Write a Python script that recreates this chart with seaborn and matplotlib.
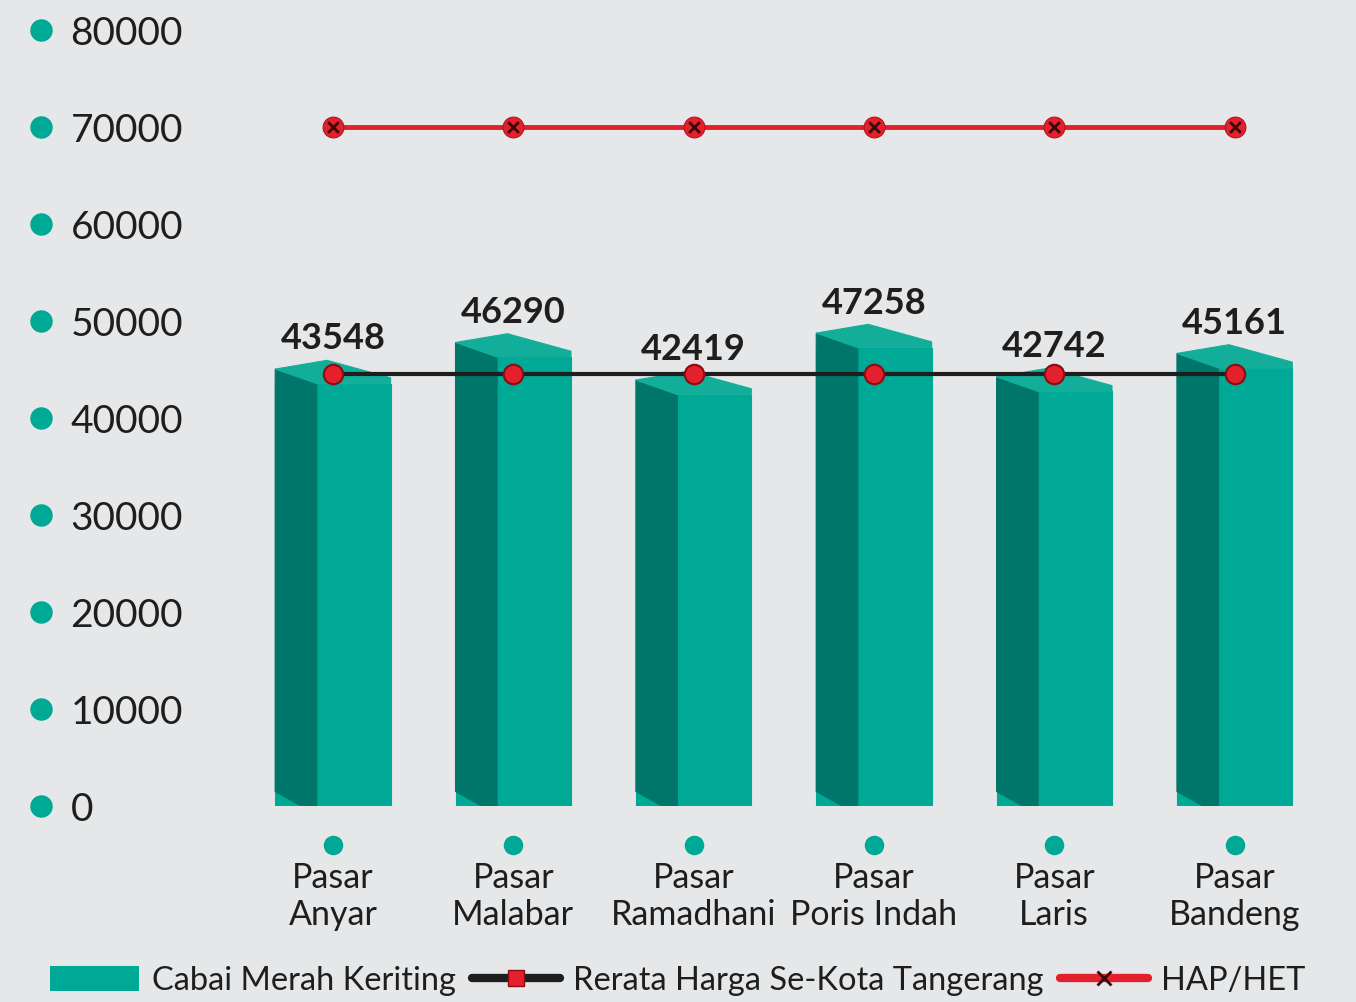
import numpy as np
import matplotlib.pyplot as plt
import seaborn as sns
from matplotlib.patches import Polygon, Patch
from matplotlib.lines import Line2D
from matplotlib.transforms import blended_transform_factory

# data
markets = ["Pasar\nAnyar", "Pasar\nMalabar", "Pasar\nRamadhani",
           "Pasar\nPoris Indah", "Pasar\nLaris", "Pasar\nBandeng"]
cabai = [43548, 46290, 42419, 47258, 42742, 45161]
rerata = [44570, 44570, 44570, 44570, 44570, 44570]
hap = [70000, 70000, 70000, 70000, 70000, 70000]
yticks = [0, 10000, 20000, 30000, 40000, 50000, 60000, 70000, 80000]

bg = "#e5e7e9"
teal = "#00a896"
teal_dark = "#00766a"
teal_top = "#13ae9a"
red = "#e3202b"
ink = "#1e1e1e"

sns.set_style("white")
plt.rcParams['font.family'] = ['Lato', 'DejaVu Sans']

fig = plt.figure(figsize=(13.56, 10.02), dpi=100, facecolor=bg)
ax = fig.add_axes([0.179, 0.1956, 0.798, 0.7744])
ax.set_facecolor(bg)

sns.barplot(x=list(range(len(markets))), y=cabai, color=teal, width=0.64,
            saturation=1, edgecolor=teal, linewidth=0.8, ax=ax, zorder=2)

# fake 3D: dark left face + lighter top face
e = 1500
for p in ax.patches:
    x0 = p.get_x()
    w = p.get_width()
    h = p.get_height()
    xm = x0 + w * 0.36
    x1 = x0 + w
    side = Polygon([(x0, e), (xm, -e * 0.6), (xm, h), (x0, h + e)],
                   closed=True, facecolor=teal_dark, edgecolor=teal_dark,
                   lw=0.8, zorder=3)
    top = Polygon([(x0, h + e), (x0 + w * 0.45, h + e * 1.6), (x1, h + e * 0.4),
                   (x1, h), (xm, h)],
                  closed=True, facecolor=teal_top, edgecolor=teal_top,
                  lw=0.8, zorder=3)
    ax.add_patch(side)
    ax.add_patch(top)
    ax.text(x0 + w / 2, h + e + 1400, f"{int(h)}", ha="center", va="bottom",
            fontsize=26, fontweight="bold", color=ink, zorder=6)

xs = np.arange(len(markets))
sns.lineplot(x=xs, y=rerata, color=ink, linewidth=3, marker="o", markersize=14,
             markerfacecolor=red, markeredgecolor="#8a0c12", markeredgewidth=1.5,
             ax=ax, zorder=5)
sns.lineplot(x=xs, y=hap, color=red, linewidth=3.5, marker="o", markersize=15,
             markerfacecolor=red, markeredgecolor="#b0141c", ax=ax, zorder=5)
ax.scatter(xs, hap, marker="x", s=60, color="#3a0a0a", linewidths=2, zorder=6)

ax.set_xlim(-0.5, len(markets) - 0.5)
ax.set_ylim(0, 80000)
ax.set_yticks(yticks)
ax.set_yticklabels([str(v) for v in yticks], fontsize=28, color=ink, ha="left")
ax.tick_params(axis="y", length=0, pad=124)
ax.set_xticks(xs)
ax.set_xticklabels(markets, fontsize=24.5, color=ink, linespacing=1.2)
ax.tick_params(axis="x", length=0, pad=40)
for s in ax.spines.values():
    s.set_visible(False)

# teal dots next to the tick labels
tr_y = blended_transform_factory(ax.transAxes, ax.transData)
ax.scatter([-0.186] * len(yticks), yticks, s=230, color=teal, transform=tr_y,
           clip_on=False, zorder=4)
tr_x = blended_transform_factory(ax.transData, ax.transAxes)
ax.scatter(xs, [-0.0505] * len(xs), s=170, color=teal, transform=tr_x,
           clip_on=False, zorder=4)

handles = [
    Patch(facecolor=teal, edgecolor="none", label="Cabai Merah Keriting"),
    Line2D([0], [0], color=ink, lw=6, marker="s", markersize=12,
           markerfacecolor=red, markeredgecolor="#8a0c12",
           label="Rerata Harga Se-Kota Tangerang"),
    Line2D([0], [0], color=red, lw=6, marker="x", markersize=10,
           markeredgecolor="#3a0a0a", markeredgewidth=2, label="HAP/HET"),
]
fig.legend(handles=handles, loc="center", bbox_to_anchor=(0.5, 0.021), ncol=3,
           frameon=False, fontsize=23.5, handlelength=2.7, handleheight=0.8,
           columnspacing=0.5, handletextpad=0.4, labelcolor=ink,
           borderaxespad=0, borderpad=0)

fig.savefig("out.png", dpi=100, facecolor=bg)
